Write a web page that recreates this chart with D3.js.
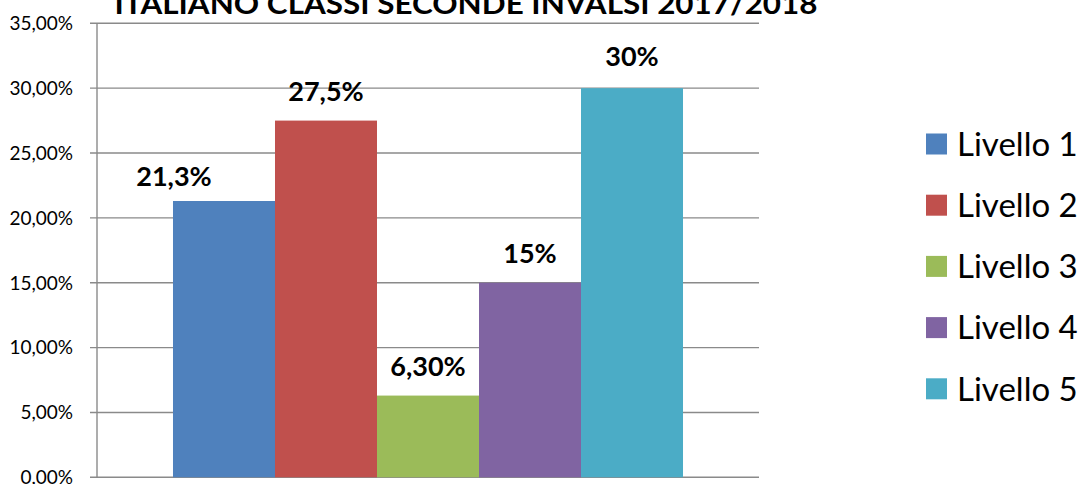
<!DOCTYPE html>
<html>
<head>
<meta charset="utf-8">
<script src="https://cdn.jsdelivr.net/npm/d3@7"></script>
<style>
  html, body { margin: 0; padding: 0; background: #fff; }
  svg { display: block; }
</style>
</head>
<body>
<svg id="chart" width="1080" height="484"></svg>
<script>
var title = "ITALIANO CLASSI SECONDE INVALSI 2017/2018";
var category = "Italiano";
var series = ["Livello 1", "Livello 2", "Livello 3", "Livello 4", "Livello 5"];
var values = [21.3, 27.5, 6.3, 15, 30];
var valueLabels = ["21,3%", "27,5%", "6,30%", "15%", "30%"];
var yTicks = [0, 5, 10, 15, 20, 25, 30, 35];
var colors = ["#4F81BD", "#C0504D", "#9BBB59", "#8064A2", "#4BACC6"];

var svg = d3.select("#chart");
var plotL = 97, plotR = 759, plotT = 23.3, plotB = 477.3;

var it = d3.formatLocale({decimal: ",", thousands: ".", grouping: [3], currency: ["", "€"]});
var fmt = it.format(".2f");

var y = d3.scaleLinear().domain([0, 35]).range([plotB, plotT]);
var x0 = d3.scaleBand().domain([category]).range([plotL, plotR]).paddingInner(0).paddingOuter(0.149);
var x1 = d3.scaleBand().domain(series).range([0, x0.bandwidth()]);

// gridlines + tick stubs
svg.append("g")
  .selectAll("line")
  .data(yTicks)
  .enter().append("line")
  .attr("x1", plotL - 7).attr("x2", plotR)
  .attr("y1", function(d) { return y(d); })
  .attr("y2", function(d) { return y(d); })
  .attr("stroke", "#8a8a8a")
  .attr("stroke-width", 1.4);

// y axis line
svg.append("line")
  .attr("x1", plotL).attr("x2", plotL)
  .attr("y1", plotT).attr("y2", plotB)
  .attr("stroke", "#8a8a8a").attr("stroke-width", 1.4);

// tick labels
svg.append("g")
  .selectAll("text")
  .data(yTicks)
  .enter().append("text")
  .attr("x", 73)
  .attr("y", function(d) { return y(d); })
  .attr("dy", "0.36em")
  .attr("text-anchor", "end")
  .attr("font-family", "Lato, sans-serif")
  .attr("font-size", 19)
  .attr("fill", "#000")
  .text(function(d) { return fmt(d) + "%"; });

// bars
var g = svg.append("g").attr("transform", "translate(" + x0(category) + ",0)");
g.selectAll("rect")
  .data(values)
  .enter().append("rect")
  .attr("x", function(d, i) { return x1(series[i]); })
  .attr("width", x1.bandwidth())
  .attr("y", function(d) { return y(d); })
  .attr("height", function(d) { return y(0) - y(d); })
  .attr("fill", function(d, i) { return colors[i]; });

// data labels (first one was dragged left in the original)
var nudge = [[-50, 5], [0, 0], [0, 0], [0, 0], [0, -2]];
g.selectAll("text.lbl")
  .data(values)
  .enter().append("text")
  .attr("class", "lbl")
  .attr("x", function(d, i) { return x1(series[i]) + x1.bandwidth() / 2 + nudge[i][0]; })
  .attr("y", function(d, i) { return y(d) - 20 + nudge[i][1]; })
  .attr("text-anchor", "middle")
  .attr("font-family", "Lato, sans-serif")
  .attr("font-weight", "bold")
  .attr("font-size", 27)
  .attr("fill", "#000")
  .text(function(d, i) { return valueLabels[i]; });

// title
svg.append("text")
  .attr("x", 466).attr("y", 14)
  .attr("text-anchor", "middle")
  .attr("font-family", "Lato, sans-serif")
  .attr("font-weight", "bold")
  .attr("font-size", 28)
  .attr("textLength", 703)
  .attr("lengthAdjust", "spacingAndGlyphs")
  .text(title);

// legend
var legend = svg.append("g")
  .selectAll("g")
  .data(series)
  .enter().append("g")
  .attr("transform", function(d, i) { return "translate(926," + (144 + i * 61.2) + ")"; });
legend.append("rect")
  .attr("x", 0).attr("y", -10.5)
  .attr("width", 21).attr("height", 21)
  .attr("fill", function(d, i) { return colors[i]; });
legend.append("text")
  .attr("x", 31).attr("y", 0)
  .attr("dy", "0.36em")
  .attr("font-family", "Lato, sans-serif")
  .attr("font-size", 33)
  .attr("fill", "#000")
  .text(function(d) { return d; });
</script>
</body>
</html>
